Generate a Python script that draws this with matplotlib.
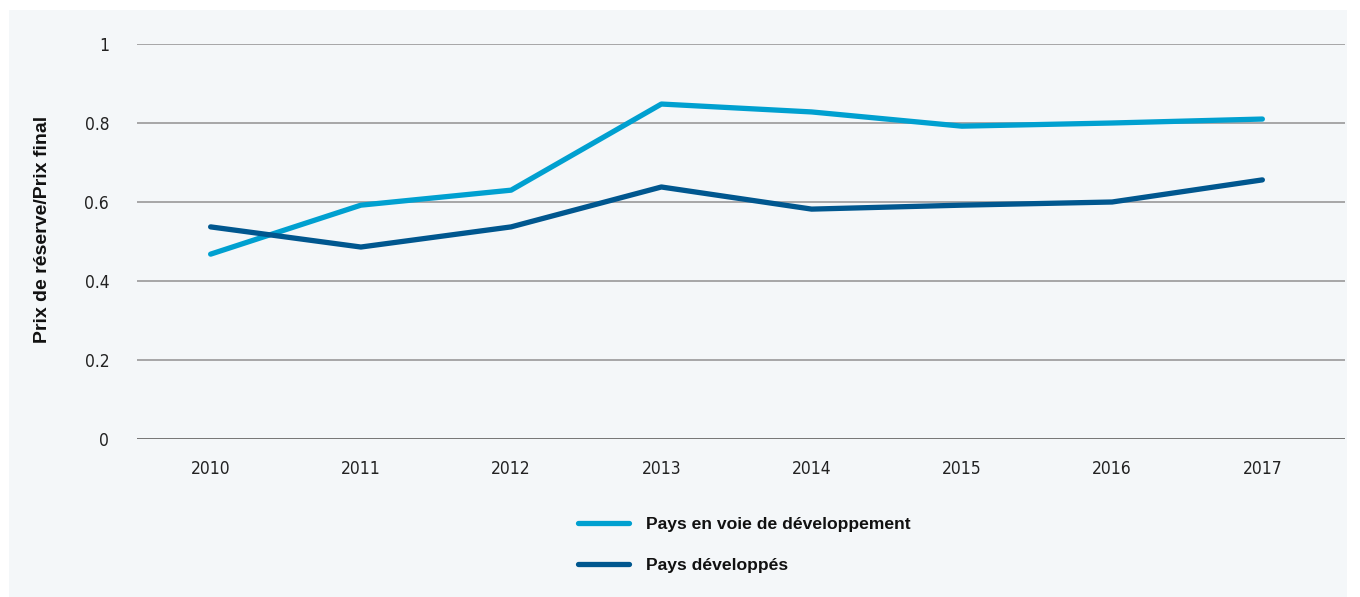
import matplotlib.pyplot as plt
from matplotlib.patches import Rectangle

years = ["2010", "2011", "2012", "2013", "2014", "2015", "2016", "2017"]
en_developpement = [0.468, 0.592, 0.630, 0.848, 0.828, 0.792, 0.800, 0.810]
developpes = [0.537, 0.486, 0.537, 0.638, 0.582, 0.592, 0.600, 0.656]
yticks = [0, 0.2, 0.4, 0.6, 0.8, 1]
ytick_labels = ["0", "0.2", "0.4", "0.6", "0.8", "1"]

light = "#00a0d0"
dark = "#00578f"
bg = "#f4f7f9"
bold_font = ["Liberation Sans", "DejaVu Sans"]

fig = plt.figure(figsize=(13.6, 5.97), dpi=100)
fig.patch.set_facecolor("white")
# light panel behind everything
fig.patches.append(Rectangle((9 / 1360, 0), 1338 / 1360, 587 / 597,
                             transform=fig.transFigure, facecolor=bg,
                             edgecolor="none", zorder=-1))

ax = fig.add_axes([137 / 1360, 1 - 439 / 597, 1208 / 1360, 395 / 597])
ax.set_facecolor("none")

x = list(range(len(years)))
l1, = ax.plot(x, en_developpement, color=light, lw=3.8, solid_capstyle="round",
              solid_joinstyle="round", zorder=3)
l2, = ax.plot(x, developpes, color=dark, lw=3.8, solid_capstyle="round",
              solid_joinstyle="round", zorder=3)

ax.set_xlim(-0.49, 7.55)
ax.set_ylim(0, 1)
ax.set_yticks(yticks)
ax.set_yticklabels(ytick_labels)
ax.set_xticks(x)
ax.set_xticklabels(years)
ax.tick_params(length=0, labelsize=12.5, colors="#222222")
ax.tick_params(axis="y", pad=20)
ax.tick_params(axis="x", pad=15)
for lab in ax.get_xticklabels() + ax.get_yticklabels():
    lab.set_family("DejaVu Sans")
    lab.set_fontstretch("condensed")

ax.grid(axis="y", color="#999999", lw=1.2)
for s in ax.spines.values():
    s.set_visible(False)
ax.axhline(0, color="#777777", lw=1.4, zorder=2)

fig.text(43 / 1360, 1 - 229 / 597, "Prix de réserve/Prix final", rotation=90,
         ha="center", va="center", fontsize=14, fontweight="bold",
         family=bold_font, color="#111111")

leg = fig.legend([l1, l2], ["Pays en voie de développement", "Pays développés"],
                 loc="upper left", bbox_to_anchor=(562 / 1360, 1 - 501 / 597),
                 frameon=False, handlelength=2.9, handletextpad=1.0,
                 labelspacing=1.48,
                 prop={"size": 12.6, "weight": "bold", "family": bold_font})
for t in leg.get_texts():
    t.set_color("#111111")

fig.savefig("out.png", dpi=100)
